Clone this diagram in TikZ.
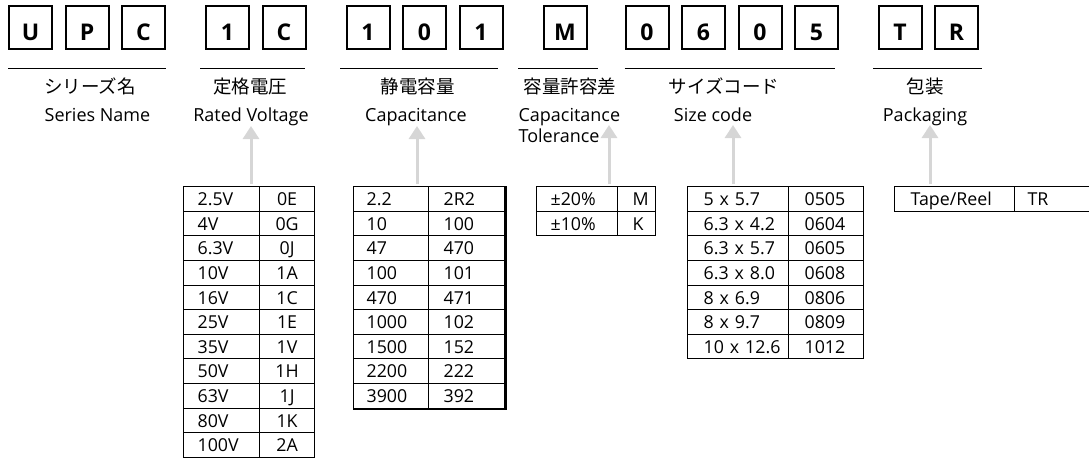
\documentclass[tikz,border=0pt]{standalone}
\usepackage{fontspec}
\setmainfont{Open Sans}
\newfontfamily\jpfont{Noto Sans CJK JP}
\usetikzlibrary{positioning,matrix,arrows.meta}

\tikzset{
  digit/.style={draw, line width=2pt, minimum size=43pt, inner sep=0pt, text height=26pt, text depth=0pt, font=\fontsize{23}{23}\selectfont\bfseries},
  rule/.style={line width=0.9pt},
  jp/.style={anchor=base, font=\jpfont\fontsize{18.5}{18.5}\selectfont},
  en/.style={anchor=base, font=\fontsize{18}{18}\selectfont},
  feed/.style={draw=black!16, line width=3pt, shorten <=2pt, -{Triangle[width=16pt,length=13pt]}},
  codes/.style={matrix of nodes, inner sep=0pt, anchor=north west, row sep=-0.8pt, column sep=-0.8pt,
    nodes={draw, line width=0.8pt, inner xsep=0pt, inner ysep=4.5pt, text height=14.6pt, text depth=1pt, align=left, font=\fontsize{17.8}{17.8}\selectfont}},
  col/.style 2 args={nodes={text width=#1, execute at begin node={\hspace*{#2}}}},
  mid/.style={nodes={text width=#1, align=center}}
}

\begin{document}
\begin{tikzpicture}[x=1pt, y=-1pt]
\useasboundingbox (0,0) rectangle (1089,459);

% part number
\node[digit] (bU) at (30.5,27.5) {U};
\node[digit, right=11.5pt of bU] (bP) {P};
\node[digit, right=11.5pt of bP] (bC) {C};
\node[digit, right=39pt of bC] (bV1) {1};
\node[digit, right=11.5pt of bV1] (bV2) {C};
\node[digit, right=39pt of bV2] (bN1) {1};
\node[digit, right=11.5pt of bN1] (bN2) {0};
\node[digit, right=11.5pt of bN2] (bN3) {1};
\node[digit, right=39pt of bN3] (bM) {M};
\node[digit, right=37pt of bM] (bS1) {0};
\node[digit, right=11.5pt of bS1] (bS2) {6};
\node[digit, right=11.5pt of bS2] (bS3) {0};
\node[digit, right=11.5pt of bS3] (bS4) {5};
\node[digit, right=38.5pt of bS4] (bT) {T};
\node[digit, right=11.5pt of bT] (bR) {R};

% rules under the groups
\draw[rule] ([yshift=-18pt]bU.south west) -- ([yshift=-18pt]bC.south east);
\draw[rule] ([xshift=-5pt,yshift=-18pt]bV1.south west) -- ([xshift=-1.5pt,yshift=-18pt]bV2.south east);
\draw[rule] ([xshift=-5.5pt,yshift=-18pt]bN1.south west) -- ([xshift=-5.5pt,yshift=-18pt]bN3.south east);
\draw[rule] ([xshift=-24.5pt,yshift=-18pt]bM.south west) -- ([xshift=10.5pt,yshift=-18pt]bM.south east);
\draw[rule] ([yshift=-18pt]bS1.south west) -- ([xshift=-4pt,yshift=-18pt]bS4.south east);
\draw[rule] ([xshift=-4.5pt,yshift=-18pt]bT.south west) -- ([xshift=3pt,yshift=-18pt]bR.south east);

% labels
\node[jp] (jSer) at (90,93) {シリーズ名};
\node[en] (eSer) at (97.5,121.5) {Series Name};
\node[jp] (jVol) at (250,93) {定格電圧};
\node[en] (eVol) at (251,121.5) {Rated Voltage};
\node[jp] (jCap) at (417.5,93) {静電容量};
\node[en] (eCap) at (416,121.5) {Capacitance};
\node[jp] (jTol) at (570,93) {容量許容差};
\node[en, anchor=base west] (eTol) at (515,121.5) {Capacitance};
\node[en, anchor=base west] (eTol2) at (515,142.5) {Tolerance};
\node[jp] (jSiz) at (724,93) {サイズコード};
\node[en] (eSiz) at (713,121.5) {Size code};
\node[jp] (jPak) at (925,93) {包装};
\node[en] (ePak) at (925,121.5) {Packaging};

% code tables
\matrix[codes, column 1/.style={col={76pt}{14pt}}, column 2/.style={mid=55pt}] (tV) at (183,186) {
2.5V & 0E \\
4V & 0G \\
6.3V & 0J \\
10V & 1A \\
16V & 1C \\
25V & 1E \\
35V & 1V \\
50V & 1H \\
63V & 1J \\
80V & 1K \\
100V & 2A \\
};
\matrix[codes, column 1/.style={col={75pt}{13pt}}, column 2/.style={col={76pt}{15pt}}] (tC) at (353,186) {
2.2 & 2R2 \\
10 & 100 \\
47 & 470 \\
100 & 101 \\
470 & 471 \\
1000 & 102 \\
1500 & 152 \\
2200 & 222 \\
3900 & 392 \\
};
\draw[line width=1.6pt] ([xshift=0.8pt]tC.north east) -- ([xshift=0.8pt,yshift=-0.8pt]tC.south east) -- ([yshift=-0.8pt]tC.south west);
\matrix[codes, column 1/.style={col={81pt}{14pt}}, column 2/.style={col={38pt}{15pt}}] (tT) at (536,186) {
±20\% & M \\
±10\% & K \\
};
\matrix[codes, column 1/.style={col={101pt}{16pt}}, column 2/.style={col={75pt}{16pt}}] (tS) at (687,186) {
5 x 5.7 & 0505 \\
6.3 x 4.2 & 0604 \\
6.3 x 5.7 & 0605 \\
6.3 x 8.0 & 0608 \\
8 x 6.9 & 0806 \\
8 x 9.7 & 0809 \\
10 x 12.6 & 1012 \\
};
\matrix[codes, column 1/.style={col={120pt}{16pt}}, column 2/.style={col={90pt}{13pt}}] (tP) at (894,186) {
Tape/Reel & TR \\
};

% arrows up to the labels
\coordinate (tipV) at (251,126);
\coordinate (tipC) at (417,126);
\coordinate (tipT) at (609,125);
\coordinate (tipS) at (733,125);
\coordinate (tipP) at (930,125);
\draw[feed] (tV.north -| tipV) -- (tipV);
\draw[feed] (tC.north -| tipC) -- (tipC);
\draw[feed] (tT.north -| tipT) -- (tipT);
\draw[feed] (tS.north -| tipS) -- (tipS);
\draw[feed] (tP.north -| tipP) -- (tipP);
\end{tikzpicture}
\end{document}
